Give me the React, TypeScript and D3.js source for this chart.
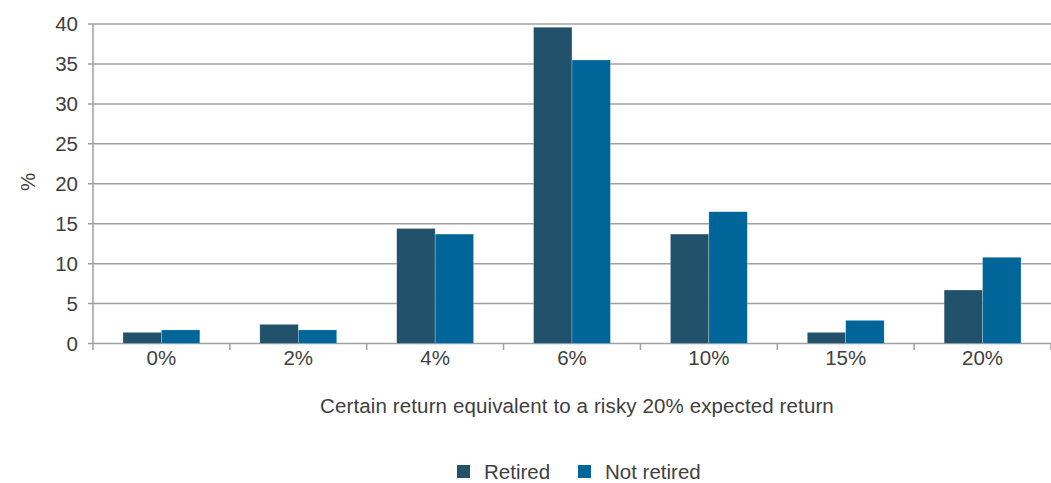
import React from 'react';
import * as d3 from 'd3';

const categories = ['0%', '2%', '4%', '6%', '10%', '15%', '20%'];
const retired = [1.4, 2.4, 14.4, 39.6, 13.7, 1.4, 6.7];
const notRetired = [1.7, 1.7, 13.7, 35.5, 16.5, 2.9, 10.8];
const yTicks = [0, 5, 10, 15, 20, 25, 30, 35, 40];
const seriesNames = ['Retired', 'Not retired'];
const colors = ['#22526b', '#006699'];

const App = () => {
  const width = 1051;
  const height = 483;
  const margin = { top: 24, right: 0, bottom: 140, left: 93 };
  const plotBottom = height - margin.bottom;

  const x = d3.scaleBand<string>()
    .domain(categories)
    .range([margin.left, width - margin.right]);

  // 每组两根柱子，约占类别宽度的 56%
  const inner = d3.scaleBand<string>()
    .domain(seriesNames)
    .range([0, x.bandwidth()])
    .paddingOuter(0.78);

  const y = d3.scaleLinear()
    .domain([0, 40])
    .range([plotBottom + 0.5, margin.top]);

  const font = '"Liberation Sans", Arial, sans-serif';
  const textColor = '#404040';
  const fs = 20.5;

  return (
    <svg width={width} height={height} style={{ position: 'absolute', left: 0, top: 0 }} fontFamily={font}>
      {/* 网格线 */}
      {yTicks.map(t => (
        <g key={t}>
          <line x1={margin.left - 5} x2={width} y1={y(t)} y2={y(t)} stroke="#a0a0a0" strokeWidth={1.5} />
          <text x={78} y={y(t)} dy="0.36em" textAnchor="end" fontSize={fs} fill={textColor}>{t}</text>
        </g>
      ))}
      <line x1={margin.left} x2={margin.left} y1={margin.top} y2={plotBottom + 7} stroke="#a0a0a0" strokeWidth={1.5} />
      {categories.map(c => (
        <line key={c} x1={x(c)! + x.bandwidth()} x2={x(c)! + x.bandwidth()} y1={plotBottom} y2={plotBottom + 7}
          stroke="#a0a0a0" strokeWidth={1.5} />
      ))}

      {/* 柱子 */}
      {categories.map((c, i) => [retired[i], notRetired[i]].map((v, j) => (
        <rect key={c + j}
          x={x(c)! + inner(seriesNames[j])!}
          y={y(v)}
          width={inner.bandwidth()}
          height={y(0) - y(v)}
          fill={colors[j]}
          stroke="#ffffff" strokeOpacity={0.5} strokeWidth={0.5} />
      )))}

      {categories.map(c => (
        <text key={c} x={x(c)! + x.bandwidth() / 2} y={365} textAnchor="middle" fontSize={fs} fill={textColor}>{c}</text>
      ))}

      <text x={577} y={413} textAnchor="middle" fontSize={fs} fill={textColor} letterSpacing={0.12}>
        Certain return equivalent to a risky 20% expected return
      </text>
      <text transform={`translate(35,${182}) rotate(-90)`} textAnchor="middle" fontSize={fs} fill={textColor}>%</text>

      {/* 图例 */}
      {seriesNames.map((s, j) => {
        const lx = j === 0 ? 457 : 578;
        return (
          <g key={s}>
            <rect x={lx} y={465} width={13} height={13} fill={colors[j]} />
            <text x={lx + 27} y={479} fontSize={fs} fill={textColor}>{s}</text>
          </g>
        );
      })}
    </svg>
  );
};

export default App;
